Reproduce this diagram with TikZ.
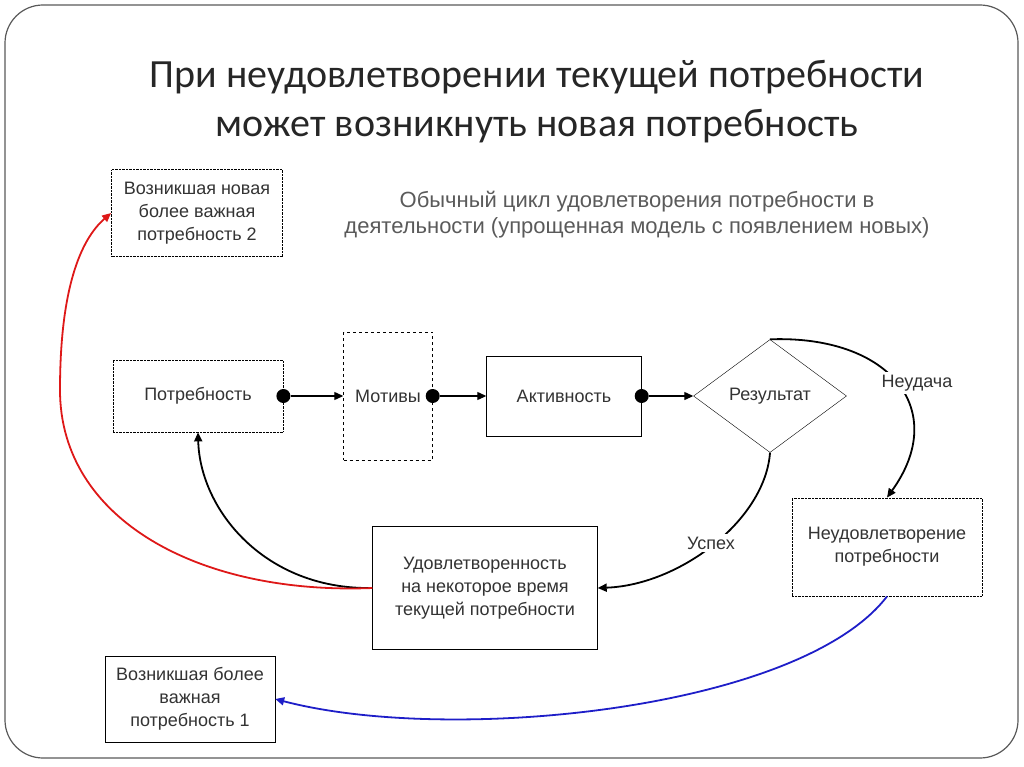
\documentclass[tikz,border=0pt]{standalone}
\usepackage{fontspec}
\setmainfont{Liberation Sans}
\newfontfamily\titlefont{Carlito}
\usetikzlibrary{arrows.meta,shapes.geometric}

\definecolor{titlegray}{RGB}{38,38,38}
\definecolor{textgray}{RGB}{51,51,51}
\definecolor{subgray}{RGB}{90,90,90}
\definecolor{failred}{RGB}{222,24,24}
\definecolor{failblue}{RGB}{30,30,200}

\tikzset{
  box/.style={draw=black, thin, fill=white, align=center, text=textgray,
    font=\fontsize{18}{23}\selectfont, inner sep=2pt},
  dotbox/.style={box, densely dotted, thick},
  flow/.style={draw=black, line width=1.8pt, -{Triangle[length=9pt,width=8pt]}},
  knob/.style={circle, fill=black, inner sep=0pt, minimum size=14pt},
  edgelabel/.style={fill=white, text=textgray, font=\fontsize{18}{23}\selectfont, inner sep=3pt}
}

\begin{document}
\begin{tikzpicture}[x=1pt,y=-1pt]
\useasboundingbox (0,0) rectangle (1024,767);

% frame
\draw[gray!70!black, line width=1.2pt, rounded corners=38pt] (5,5) rectangle (1018,758);

% title
\node[text=titlegray, align=center, font=\titlefont\fontsize{40}{49}\selectfont] (title) at (537,102)
  {При неудовлетворении текущей потребности\\может возникнуть новая потребность};
\node[text=subgray, align=center, font=\fontsize{22}{26}\selectfont] (subtitle) at (637,215)
  {Обычный цикл удовлетворения потребности в\\деятельности (упрощенная модель с появлением новых)};

% boxes
\node[dotbox, minimum width=170pt, minimum height=72pt] (need) at (198,396) {Потребность};
\node[box, dashed, minimum width=89pt, minimum height=128pt] (motive) at (388,396) {Мотивы};
\node[box, minimum width=155pt, minimum height=80pt] (activity) at (564,396) {Активность};
\node[box, diamond, aspect=1.35, minimum width=153pt, minimum height=113pt, inner sep=0pt] (result) at (770,396) {Результат};
\node[box, minimum width=225pt, minimum height=123pt] (sat) at (485,588) {Удовлетворенность\\на некоторое время\\текущей потребности};
\node[dotbox, minimum width=190pt, minimum height=98pt] (unsat) at (887,547) {Неудовлетворение\\потребности};
\node[dotbox, minimum width=171pt, minimum height=87pt] (new2) at (197,213) {Возникшая новая\\более важная\\потребность 2};
\node[box, minimum width=170pt, minimum height=86pt] (new1) at (190,699) {Возникшая более\\важная\\потребность 1};

% main chain
\node[knob] (k1) at (need.east) {};
\node[knob] (k2) at (motive.east) {};
\node[knob] (k3) at (activity.east) {};
\draw[flow, line width=1.2pt] (k1) -- (motive.west);
\draw[flow, line width=1.2pt] (k2) -- (activity.west);
\draw[flow, line width=1.2pt] (k3) -- (result.west);

% outcomes
\draw[flow] (result.north) .. controls (890,335) and (950,410) .. (unsat.north);
\node[edgelabel] (fail) at (917,383) {Неудача};
\draw[flow] (result.south) .. controls (765,520) and (680,585) .. (sat.east);
\node[edgelabel] (success) at (711,543) {Успех};
\draw[flow] (sat.west) .. controls (265,590) and (200,510) .. (need.south);

% new needs
\draw[flow, draw=failred, -{Triangle[length=9pt,width=8pt,fill=failred]}]
  (sat.west) .. controls (200,595) and (60,520) .. (60,390)
  .. controls (60,290) and (80,240) .. (new2.west);
\draw[flow, draw=failblue, -{Triangle[length=9pt,width=8pt,fill=failblue]}]
  (unsat.south) .. controls (800,710) and (450,745) .. (new1.east);

\end{tikzpicture}
\end{document}
